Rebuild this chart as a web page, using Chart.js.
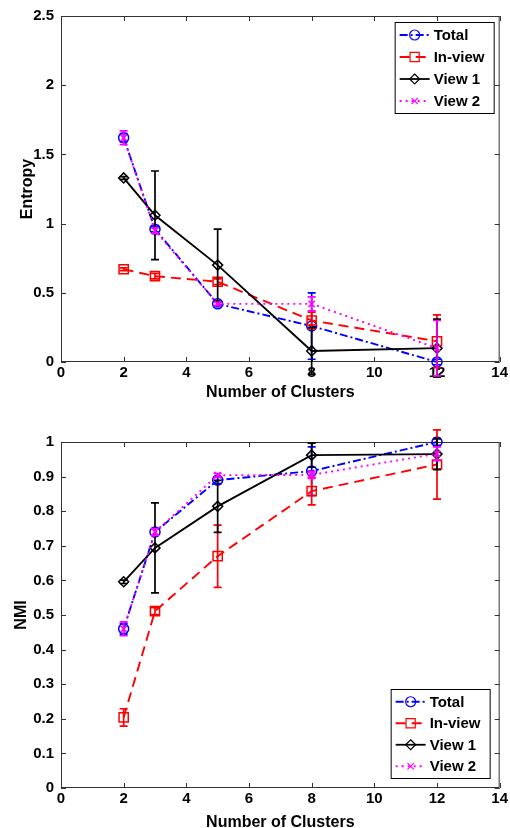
<!DOCTYPE html>
<html>
<head>
<meta charset="utf-8">
<script src="https://cdn.jsdelivr.net/npm/chart.js@4.4.1/dist/chart.umd.min.js"></script>
<style>
  html, body { margin: 0; padding: 0; background: #fff; }
  #wrap { position: relative; width: 510px; height: 828px; }
  canvas { position: absolute; left: 0; }
</style>
</head>
<body>
<div id="wrap">
  <canvas id="entropyChart" width="510" height="400" style="top:0;width:510px;height:400px"></canvas>
  <canvas id="nmiChart" width="510" height="428" style="top:400px;width:510px;height:428px"></canvas>
</div>
<script>
// x positions
const clusters = [2, 3, 5, 8, 12];
const xTicks = [0, 2, 4, 6, 8, 10, 12, 14];

// entropy (top)
const entropyTotal = [1.62, 0.96, 0.42, 0.26, 0.00];
const entropyTotalErr = [0.03, 0.02, 0.02, 0.24, 0.02];
const entropyInview = [0.67, 0.62, 0.58, 0.30, 0.15];
const entropyInviewErr = [0.01, 0.02, 0.02, 0.06, 0.19];
const entropyView1 = [1.33, 1.06, 0.70, 0.08, 0.10];
const entropyView1Err = [0.01, 0.32, 0.26, 0.17, 0.21];
const entropyView2 = [1.62, 0.95, 0.42, 0.42, 0.10];
const entropyView2Err = [0.05, 0.02, 0.01, 0.05, 0.20];

// NMI (bottom)
const nmiTotal = [0.46, 0.74, 0.89, 0.916, 1.00];
const nmiTotalErr = [0.015, 0.01, 0.01, 0.07, 0.01];
const nmiInview = [0.204, 0.511, 0.67, 0.858, 0.935];
const nmiInviewErr = [0.025, 0.01, 0.09, 0.04, 0.10];
const nmiView1 = [0.596, 0.694, 0.814, 0.962, 0.965];
const nmiView1Err = [0.005, 0.13, 0.075, 0.035, 0.045];
const nmiView2 = [0.46, 0.74, 0.904, 0.905, 0.966];
const nmiView2Err = [0.02, 0.01, 0.005, 0.01, 0.02];

const seriesNames = ['Total', 'In-view', 'View 1', 'View 2'];

const FONT = '"Liberation Sans", Arial, Helvetica, sans-serif';

function pts(vals) {
  return clusters.map((c, i) => ({ x: c, y: vals[i] }));
}

function makeSets(total, totalErr, inview, inviewErr, v1, v1Err, v2, v2Err) {
  const common = { fill: false, tension: 0, clip: false, borderWidth: 1.9,
    pointBackgroundColor: 'rgba(0,0,0,0)', pointBorderWidth: 1.5 };
  return [
    Object.assign({}, common, { label: seriesNames[0], data: pts(total), errors: totalErr,
      borderColor: '#0000ff', pointBorderColor: '#0000ff', borderDash: [8, 3, 2, 3],
      pointStyle: 'circle', pointRadius: 5, order: 4 }),
    Object.assign({}, common, { label: seriesNames[1], data: pts(inview), errors: inviewErr,
      borderColor: '#ff0000', pointBorderColor: '#ff0000', borderDash: [10, 6],
      pointStyle: 'rect', pointRadius: 6.5, order: 3 }),
    Object.assign({}, common, { label: seriesNames[2], data: pts(v1), errors: v1Err,
      borderColor: '#000000', pointBorderColor: '#000000', borderDash: [],
      pointStyle: 'rectRot', pointRadius: 5, order: 2 }),
    Object.assign({}, common, { label: seriesNames[3], data: pts(v2), errors: v2Err,
      borderColor: '#ff00ff', pointBorderColor: '#ff00ff', borderDash: [2, 4],
      pointStyle: 'crossRot', pointRadius: 4.5, order: 1 })
  ];
}

// error bars drawn right after each dataset
const errorBars = {
  id: 'errorBars',
  afterDatasetDraw(chart, args) {
    const ds = chart.data.datasets[args.index];
    if (!ds.errors) return;
    const ctx = chart.ctx;
    const xs = chart.scales.x, ys = chart.scales.y;
    ctx.save();
    ctx.strokeStyle = ds.borderColor;
    ctx.lineWidth = 1.7;
    ctx.setLineDash([]);
    ds.data.forEach((p, i) => {
      const e = ds.errors[i];
      const px = xs.getPixelForValue(p.x);
      const top = ys.getPixelForValue(p.y + e);
      const bot = ys.getPixelForValue(p.y - e);
      ctx.beginPath();
      ctx.moveTo(px, top); ctx.lineTo(px, bot);
      ctx.moveTo(px - 4, top); ctx.lineTo(px + 4, top);
      ctx.moveTo(px - 4, bot); ctx.lineTo(px + 4, bot);
      ctx.stroke();
    });
    ctx.restore();
  }
};

// box with inward ticks on all sides
const frame = {
  id: 'frame',
  beforeDatasetsDraw(chart) {
    const { ctx, chartArea: a } = chart;
    const xs = chart.scales.x, ys = chart.scales.y;
    ctx.save();
    ctx.strokeStyle = '#333';
    ctx.lineWidth = 1;
    ctx.beginPath();
    ctx.rect(a.left + 0.5, a.top + 0.5, a.right - a.left - 1, a.bottom - a.top - 1);
    xs.ticks.forEach(t => {
      const px = Math.round(xs.getPixelForValue(t.value)) + 0.5;
      ctx.moveTo(px, a.bottom); ctx.lineTo(px, a.bottom - 5);
      ctx.moveTo(px, a.top); ctx.lineTo(px, a.top + 5);
    });
    ys.ticks.forEach(t => {
      const py = Math.round(ys.getPixelForValue(t.value)) + 0.5;
      ctx.moveTo(a.left, py); ctx.lineTo(a.left + 5, py);
      ctx.moveTo(a.right, py); ctx.lineTo(a.right - 5, py);
    });
    ctx.stroke();
    ctx.restore();
  }
};

function marker(ctx, style, x, y, r) {
  ctx.beginPath();
  if (style === 'circle') {
    ctx.arc(x, y, r, 0, Math.PI * 2);
  } else if (style === 'rect') {
    const s = r * Math.SQRT1_2;
    ctx.rect(x - s, y - s, 2 * s, 2 * s);
  } else if (style === 'rectRot') {
    ctx.moveTo(x, y - r); ctx.lineTo(x + r, y); ctx.lineTo(x, y + r); ctx.lineTo(x - r, y); ctx.closePath();
  } else {
    const s = r * Math.SQRT1_2;
    ctx.moveTo(x - s, y - s); ctx.lineTo(x + s, y + s);
    ctx.moveTo(x + s, y - s); ctx.lineTo(x - s, y + s);
  }
  ctx.stroke();
}

// MATLAB style legend inside the axes
const boxLegend = {
  id: 'boxLegend',
  afterDraw(chart, args, opts) {
    const { ctx, chartArea: a } = chart;
    const w = 100, h = opts.height;
    const left = a.right - opts.right - w;
    const top = opts.corner === 'top' ? a.top + opts.offset : a.bottom - opts.offset - h;
    ctx.save();
    ctx.fillStyle = '#fff';
    ctx.fillRect(left, top, w, h);
    ctx.strokeStyle = '#000';
    ctx.lineWidth = 1;
    ctx.strokeRect(left + 0.5, top + 0.5, w - 1, h - 1);
    const rowH = (h - 4) / 4;
    ctx.font = 'bold 15px ' + FONT;
    ctx.textBaseline = 'middle';
    chart.data.datasets.forEach((ds, i) => {
      const cy = top + 2 + rowH * (i + 0.5);
      ctx.strokeStyle = ds.borderColor;
      ctx.lineWidth = 1.8;
      ctx.setLineDash(ds.borderDash);
      ctx.beginPath();
      ctx.moveTo(left + 5, cy); ctx.lineTo(left + 35, cy);
      ctx.stroke();
      ctx.setLineDash([]);
      ctx.lineWidth = 1.2;
      marker(ctx, ds.pointStyle, left + 20, cy, ds.pointRadius);
      ctx.fillStyle = '#000';
      ctx.fillText(ds.label, left + 39, cy + 1);
    });
    ctx.restore();
  }
};

function makeChart(id, sets, yMax, yStep, yTitle, yTitlePad, legendOpts, padTop, xHeight, xTitlePad) {
  return new Chart(document.getElementById(id), {
    type: 'line',
    data: { datasets: sets },
    options: {
      responsive: false,
      animation: false,
      layout: { padding: { left: 0, right: 8, top: padTop, bottom: 0 } },
      plugins: {
        legend: { display: false },
        tooltip: { enabled: false },
        boxLegend: legendOpts
      },
      scales: {
        x: {
          type: 'linear', min: 0, max: 14,
          afterBuildTicks: s => { s.ticks = xTicks.map(v => ({ value: v })); },
          afterFit: s => { s.height = xHeight; },
          grid: { display: false, drawTicks: false },
          border: { display: false },
          ticks: { color: '#000', padding: 2, maxRotation: 0, font: { family: FONT, size: 15, weight: 'bold' } },
          title: { display: true, text: 'Number of Clusters', color: '#000',
            font: { family: FONT, size: 16, weight: 'bold', lineHeight: 0.75 }, padding: { top: 0, bottom: xTitlePad } }
        },
        y: {
          type: 'linear', min: 0, max: yMax,
          ticks: { stepSize: yStep, color: '#000', padding: 7,
            callback: v => String(+v.toFixed(2)),
            font: { family: FONT, size: 15, weight: 'bold' } },
          afterFit: s => { s.width = 61; },
          grid: { display: false, drawTicks: false },
          border: { display: false },
          title: { display: true, text: yTitle, color: '#000',
            font: { family: FONT, size: 16, weight: 'bold', lineHeight: 1 }, padding: { top: yTitlePad, bottom: 0 } }
        }
      }
    },
    plugins: [frame, errorBars, boxLegend]
  });
}

makeChart('entropyChart',
  makeSets(entropyTotal, entropyTotalErr, entropyInview, entropyInviewErr,
           entropyView1, entropyView1Err, entropyView2, entropyView2Err),
  2.5, 0.5, 'Entropy', 20, { corner: 'top', right: 5, offset: 6, height: 92 }, 14, 38, 1);

makeChart('nmiChart',
  makeSets(nmiTotal, nmiTotalErr, nmiInview, nmiInviewErr,
           nmiView1, nmiView1Err, nmiView2, nmiView2Err),
  1, 0.1, 'NMI', 14, { corner: 'bottom', right: 9, offset: 9, height: 90 }, 42, 40, -1);
</script>
</body>
</html>
